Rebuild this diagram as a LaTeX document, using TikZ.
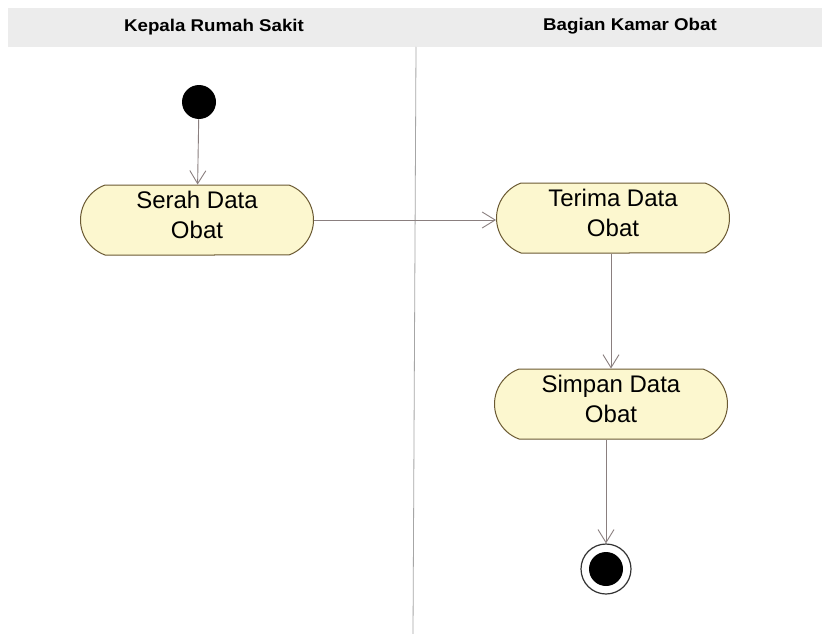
\documentclass[tikz,border=0pt]{standalone}
\usepackage{fontspec}
\setmainfont{Liberation Sans}
\usetikzlibrary{shapes.misc,arrows.meta}
\definecolor{actfill}{HTML}{FCF7CF}
\definecolor{actdraw}{HTML}{6B5A33}
\definecolor{flow}{HTML}{8A7F7F}
\definecolor{band}{HTML}{ECECEC}
\tikzset{
  x=1pt,y=-1pt,
  activity/.style={rounded rectangle, rounded rectangle arc length=140, draw=actdraw, line width=1pt, fill=actfill, minimum width=233pt, minimum height=70pt, inner sep=0pt},
  acttext/.style={align=center, font=\fontsize{24}{30}\selectfont, yshift=5pt},
  flowline/.style={draw=flow, line width=0.9pt, -{Straight Barb[length=13pt,width=16pt,line width=0.9pt]}},
  header/.style={font=\bfseries\fontsize{17}{19}\selectfont, xscale=1.1},
}
\begin{document}
\begin{tikzpicture}
\useasboundingbox (0,0) rectangle (824,634);
\fill[white] (0,0) rectangle (824,634);
\fill[band] (8,8) rectangle (822,47);
\node[header] (h1) at (214,27) {Kepala Rumah Sakit};
\node[header] (h2) at (630,26) {Bagian Kamar Obat};
\coordinate (dtop) at (416,47);
\coordinate (dbot) at (413,634);
\draw[draw=gray!70, line width=0.8pt] (dtop) -- (dbot);
\node[circle, fill=black, minimum size=34pt, inner sep=0pt] (start) at (199,102) {};
\node[activity, label={[acttext]center:{Serah Data\\Obat}}] (serah) at (197,220) {};
\node[activity, label={[acttext]center:{Terima Data\\Obat}}] (terima) at (613,218) {};
\node[activity, label={[acttext]center:{Simpan Data\\Obat}}] (simpan) at (611,404) {};
\node[circle, draw=black!80, line width=1.2pt, fill=white, minimum size=50pt, inner sep=0pt] (end) at (606,569) {};
\node[circle, fill=black, minimum size=34pt, inner sep=0pt] (endin) at (606,569) {};
\draw[flowline] (start) -- (serah);
\draw[flowline] (serah.east) -- (terima.west |- serah.east);
\draw[flowline] (terima.south -| simpan.north) -- (simpan.north);
\draw[flowline] (simpan.south -| end.north) -- (end.north);
\end{tikzpicture}
\end{document}
